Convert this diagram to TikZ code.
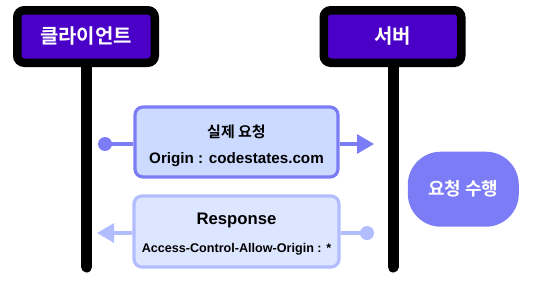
\documentclass[tikz,border=0pt]{standalone}
\usepackage{fontspec}
\setmainfont{Liberation Sans}
\newfontfamily\kr{Noto Sans CJK KR}[BoldFont={* Bold}]
\usetikzlibrary{arrows.meta}
\definecolor{hdrpurple}{HTML}{4A00C6}
\definecolor{reqline}{HTML}{7C7CF7}
\definecolor{reqfill}{HTML}{CCDAFF}
\definecolor{resline}{HTML}{B2BDFF}
\definecolor{resfill}{HTML}{DCE6FF}
\tikzset{
  actor/.style={draw=black, line width=8.5pt, fill=hdrpurple, rounded corners=7pt,
    minimum width=137.5pt, minimum height=52.5pt, inner sep=0pt,
    text=white, font=\kr\bfseries\fontsize{20}{22}\selectfont},
  lifeline/.style={line width=11pt, line cap=round},
  msgbox/.style={line width=3.2pt, rounded corners=8pt, inner sep=0pt,
    align=center},
  reqbox/.style={msgbox, draw=reqline, fill=reqfill, minimum width=203pt, minimum height=70pt},
  resbox/.style={msgbox, draw=resline, fill=resfill, minimum width=205pt, minimum height=71pt},
  dot/.style={circle, inner sep=0pt, minimum size=14pt},
  msg/.style={line width=3.2pt, -{Triangle[length=17pt,width=19pt]}},
  task/.style={fill=reqline, rounded corners=33pt, minimum width=111pt, minimum height=75pt,
    inner sep=0pt, text=white, font=\kr\bfseries\fontsize{18}{20}\selectfont}
}
\begin{document}
\begin{tikzpicture}[x=1pt, y=-1pt]
  \useasboundingbox (0,0) rectangle (553,292);

  % lifelines
  \coordinate (clientEnd) at (86.7,267);
  \coordinate (serverEnd) at (393,267);
  \draw[lifeline] (86.7,40) -- (clientEnd);
  \draw[lifeline] (393,40) -- (serverEnd);

  % participants
  \node[actor] (client) at (86,36.5) {클라이언트};
  \node[actor] (server) at (392.5,36.5) {서버};

  % request message (the strut keeps the two lines a little below the middle)
  \node[reqbox] (req) at (236.5,142) {%
    {\kr\bfseries\fontsize{15}{17}\selectfont\rule{0pt}{19.5pt}실제 요청}\\[12.5pt]
    {\bfseries\fontsize{15.2}{17}\selectfont Origin : codestates.com}};
  \node[dot, fill=reqline] (reqStart) at (105,144) {};
  \coordinate (reqEnd) at (374,144);
  \draw[line width=3.2pt, draw=reqline] (reqStart.center) -- (reqStart.center -| req.west);
  \draw[msg, draw=reqline, fill=reqline] (reqStart.center -| req.east) -- (reqEnd);

  % response message
  \node[resbox] (res) at (236.5,231.5) {%
    {\bfseries\fontsize{16.7}{18}\selectfont\rule{0pt}{16.5pt}Response}\\[14pt]
    {\bfseries\fontsize{12.6}{14}\selectfont Access-Control-Allow-Origin : *}};
  \node[dot, fill=resline] (resStart) at (367,233) {};
  \coordinate (resEnd) at (97,233);
  \draw[line width=3.2pt, draw=resline] (resStart.center) -- (resStart.center -| res.east);
  \draw[msg, draw=resline, fill=resline] (resStart.center -| res.west) -- (resEnd);

  % server-side processing
  \node[task] (work) at (463.3,189.2) {요청 수행};
\end{tikzpicture}
\end{document}
